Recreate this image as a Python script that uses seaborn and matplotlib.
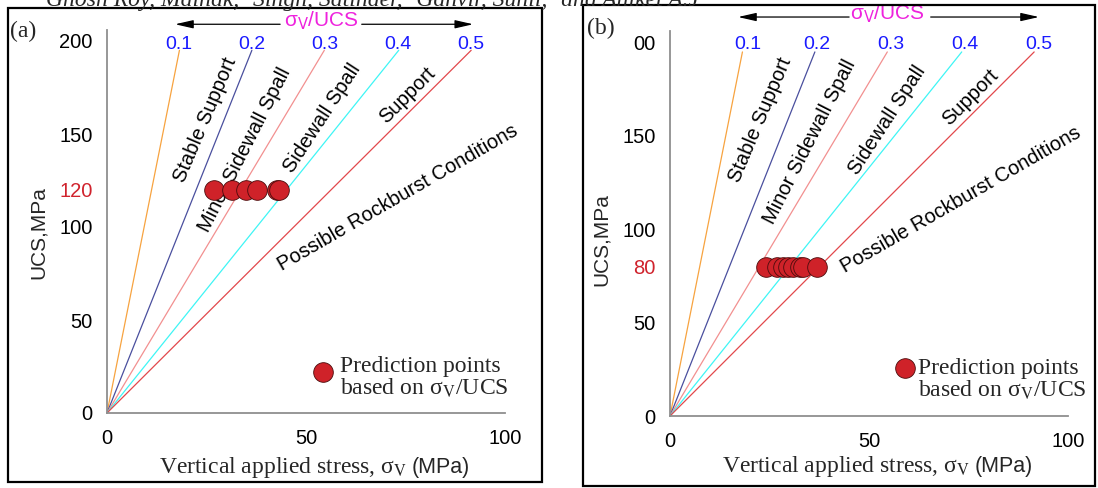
import matplotlib
matplotlib.use("Agg")
import matplotlib.pyplot as plt
from matplotlib.patches import Rectangle
import numpy as np
import pandas as pd
import seaborn as sns

# ---------------- data ----------------
ratio_labels = ["0.1", "0.2", "0.3", "0.4", "0.5"]
line_top_ucs = [195, 195, 195, 195, 195]
line_top_stress = [18.2, 36.4, 54.6, 73.3, 91.5]
line_colors = ["#f7a340", "#4a4f9e", "#f29090", "#3ff5f5", "#e2484c"]

zone_labels = ["Stable Support", "Minor Sidewall Spall", "Sidewall Spall",
               "Support", "Possible Rockburst Conditions"]

a_ucs = 120
a_stress = [26.8, 31.4, 35.0, 37.7, 42.6, 43.3]
b_ucs = 80
b_stress = [24.2, 26.8, 28.3, 29.6, 30.8, 32.7, 33.5, 37.0]

xticks = [0, 50, 100]
xtick_labels = ["0", "50", "100"]
a_yticks = [0, 50, 100, 120, 150, 200]
a_ytick_labels = ["0", "50", "100", "120", "150", "200"]
b_yticks = [0, 50, 80, 100, 120, 150, 200]
b_ytick_labels = ["0", "50", "80", "100", "", "150", "00"]

header = "Ghosh Roy, Mainak, \u2018Singh, Satinder, \u2018Ganvir, Sunil, \u2018and Aniket A.J"

# ---------------- style ----------------
sns.set_style("white")
SANS = "Liberation Sans"
SERIF = "Liberation Serif"
plt.rcParams["font.family"] = [SANS, "DejaVu Sans"]

W, H = 1098, 488
fig = plt.figure(figsize=(W / 100, H / 100), dpi=100)

YMAX = 206


def add_panel(x0, x100, y0, yscale):
    top_px = y0 - YMAX * yscale
    ax = fig.add_axes([x0 / W, 1 - y0 / H, (x100 - x0) / W, (y0 - top_px) / H])
    ax.set_xlim(0, 100)
    ax.set_ylim(0, YMAX)
    return ax


def draw_panel(ax, stress, ucs, yticks, yticklabels, red_tick, zone_pos,
               ratio_pos_x, ratio_y, arrow_y, arrow_l, arrow_r, seg_l, seg_r,
               title_x, title_y, leg_marker, leg_text, xl_y, ylab_xy):
    grey = "#8f8f8f"
    # ratio lines
    rows = []
    for lab, xs, ys in zip(ratio_labels, line_top_stress, line_top_ucs):
        rows.append({"ratio": lab, "stress": 0.0, "ucs": 0.0})
        rows.append({"ratio": lab, "stress": xs, "ucs": ys})
    df = pd.DataFrame(rows)
    sns.lineplot(data=df, x="stress", y="ucs", hue="ratio", hue_order=ratio_labels,
                 palette=line_colors, estimator=None, sort=False, legend=False,
                 linewidth=0.9, ax=ax)
    # prediction points
    pts = pd.DataFrame({"stress": stress, "ucs": [ucs] * len(stress)})
    sns.scatterplot(data=pts, x="stress", y="ucs", s=200, color="#cf2229",
                    edgecolor="#4a0c0c", linewidth=0.6, zorder=5, legend=False, ax=ax)

    for s in ["top", "right"]:
        ax.spines[s].set_visible(False)
    for s in ["left", "bottom"]:
        ax.spines[s].set_color(grey)
        ax.spines[s].set_linewidth(1.3)
    ax.spines["bottom"].set_bounds(0, 100)
    ax.set_xticks(xticks)
    ax.set_xticklabels(xtick_labels)
    ax.set_yticks(yticks)
    ax.set_yticklabels(yticklabels)
    ax.tick_params(axis="both", direction="out", length=7.5, width=1.1, color=grey,
                   labelsize=14.5, pad=3, labelcolor="black")
    ax.tick_params(axis="x", pad=4)
    for t in ax.get_yticklabels():
        if t.get_text() == red_tick:
            t.set_color("#d0232d")
    for t in ax.get_xticklabels() + ax.get_yticklabels():
        t.set_fontfamily(SANS)

    ax.set_xlabel("")
    ax.set_ylabel("UCS,MPa", fontsize=15, fontfamily=SANS)
    ax.yaxis.set_label_coords(*ylab_xy)

    # x label: serif part + sans "(MPa)"
    ax.text(75.4, xl_y, "Vertical applied stress, \u03c3$_{\\rm V}$", fontsize=17,
            fontfamily=SERIF, math_fontfamily="stix", ha="right", va="baseline")
    ax.text(76.6, xl_y, "(MPa)", fontsize=15.5, fontfamily=SANS, ha="left", va="baseline")

    # zone labels
    for lab, (zx, zy, rot) in zip(zone_labels, zone_pos):
        ax.text(zx, zy, lab, rotation=rot, rotation_mode="anchor", ha="center",
                va="center", fontsize=14.5, fontfamily=SANS, color="black")
    # ratio labels
    for lab, rx in zip(ratio_labels, ratio_pos_x):
        ax.text(rx, ratio_y, lab, ha="center", va="center", fontsize=14,
                color="#1a1aff", fontfamily=SANS)
    # top double arrow
    for start, end in [(seg_l, arrow_l), (seg_r, arrow_r)]:
        ax.annotate("", xy=(end, arrow_y), xytext=(start, arrow_y),
                    arrowprops=dict(arrowstyle="-|>,head_length=1.1,head_width=0.25",
                                    color="black", lw=0.9, shrinkA=0, shrinkB=0),
                    annotation_clip=False)
    ax.text(title_x, title_y, "\u03c3$_{\\rm V}$/UCS", ha="center", va="center",
            fontsize=15, color="#ee22dd", fontfamily=SANS, math_fontfamily="dejavusans")
    # legend
    ax.scatter([leg_marker[0]], [leg_marker[1]], s=200, color="#cf2229",
               edgecolor="#4a0c0c", linewidth=0.6, clip_on=False, zorder=5)
    ax.text(leg_text[0], leg_text[1], "Prediction points\nbased on \u03c3$_{\\rm V}$/UCS",
            ha="left", va="center", fontsize=17, fontfamily=SERIF,
            math_fontfamily="stix", linespacing=1.0)


# panel (a)
ax_a = add_panel(107, 505, 413, 1.86)
draw_panel(ax_a, a_stress, a_ucs, a_yticks, a_ytick_labels, "120",
           zone_pos=[(24.6, 157.5, 67), (34.7, 141.4, 63), (54.0, 158.6, 57),
                     (75.4, 171.0, 45), (73.1, 115.6, 30)],
           ratio_pos_x=[18.0, 36.4, 54.8, 73.1, 91.4], ratio_y=198,
           arrow_y=209, arrow_l=17.1, arrow_r=92.0, seg_l=43.5, seg_r=64.0,
           title_x=53.8, title_y=211, leg_marker=(54.3, 22.0), leg_text=(58.5, 18.8),
           xl_y=-32.3, ylab_xy=(-0.148, 0.47))

# panel (b)
ax_b = add_panel(670, 1068, 416, 1.867)
draw_panel(ax_b, b_stress, b_ucs, b_yticks, b_ytick_labels, "80",
           zone_pos=[(22.6, 158.5, 67), (35.1, 146.8, 63), (54.7, 158.5, 57),
                     (75.4, 170.9, 45), (73.1, 115.7, 30)],
           ratio_pos_x=[19.6, 37.0, 55.6, 74.1, 92.7], ratio_y=198.8,
           arrow_y=213.7, arrow_l=17.1, arrow_r=92.7, seg_l=45.0, seg_r=65.5,
           title_x=54.6, title_y=215.5, leg_marker=(59.0, 25.7), leg_text=(62.3, 19.3),
           xl_y=-30.0, ylab_xy=(-0.148, 0.458))

# panel frames
fig.add_artist(Rectangle((8 / W, 1 - 482 / H), (542 - 8) / W, (482 - 8) / H,
                         transform=fig.transFigure, fill=False, ec="black", lw=1.6))
fig.add_artist(Rectangle((583 / W, 1 - 486 / H), (1095 - 583) / W, (486 - 5) / H,
                         transform=fig.transFigure, fill=False, ec="black", lw=1.6))
fig.text(10 / W, 1 - 31 / H, "(a)", fontsize=17, fontfamily=SERIF, va="center", ha="left")
fig.text(587 / W, 1 - 28 / H, "(b)", fontsize=17, fontfamily=SERIF, va="center", ha="left")
fig.text(46 / W, 1 - 6 / H, header, fontsize=17, fontfamily=SERIF, style="italic",
         va="baseline", ha="left")

fig.savefig("out.png", dpi=100)
